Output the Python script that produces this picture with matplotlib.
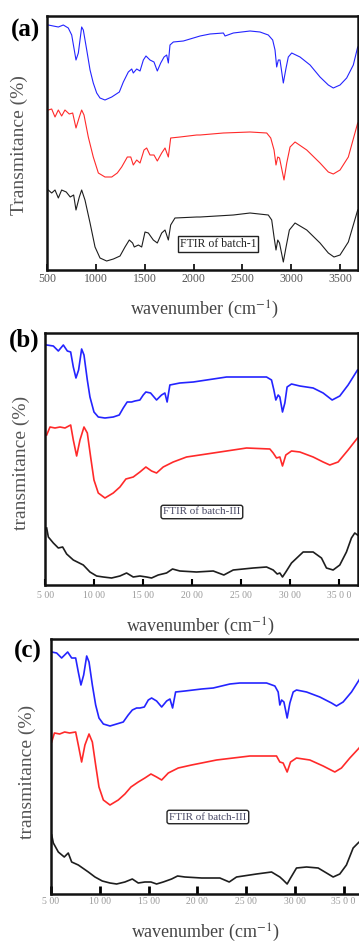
import matplotlib
matplotlib.use('Agg')
import matplotlib.pyplot as plt

plt.rcParams['font.family'] = ['Liberation Serif', 'DejaVu Serif']
plt.rcParams['mathtext.fontset'] = 'stix'

W, H = 359, 944

# ---- panel (a): FTIR of batch-1 ----
wn_a_blue = [511, 562, 614, 665, 716, 751, 795, 819, 853, 870, 905, 939, 972, 1007, 1041, 1092, 1161, 1239,
             1280, 1331, 1366, 1382, 1417, 1451, 1485, 1512, 1553, 1594, 1628, 1663, 1697, 1724, 1741, 1758,
             1792, 1895, 2032, 2066, 2168, 2305, 2322, 2407, 2578, 2680, 2765, 2810, 2834, 2851, 2868, 2885,
             2919, 2947, 2970, 3005, 3090, 3193, 3295, 3380, 3431, 3500, 3568, 3636, 3681]
t_a_blue = [245, 244, 243, 245, 242, 235, 210, 217, 243, 240, 220, 200, 187, 177, 172, 170, 173, 178,
            188, 198, 201, 197, 201, 199, 210, 214, 210, 208, 199, 207, 213, 215, 207, 225,
            228, 229, 233, 234, 236, 237, 234, 237, 239, 238, 235, 230, 220, 203, 210, 210,
            187, 202, 213, 217, 213, 205, 193, 185, 182, 185, 192, 205, 223]

wn_a_red = [511, 546, 580, 614, 648, 682, 726, 761, 795, 829, 853, 877, 921, 972, 1024, 1092, 1161, 1218,
            1263, 1321, 1356, 1382, 1417, 1451, 1492, 1519, 1553, 1594, 1628, 1673, 1707, 1741, 1765, 1861,
            2032, 2066, 2305, 2578, 2749, 2790, 2824, 2844, 2862, 2880, 2926, 2954, 2988, 3039, 3159, 3295,
            3380, 3431, 3500, 3585, 3681]
t_a_red = [160, 161, 153, 160, 154, 160, 156, 157, 142, 153, 160, 155, 133, 113, 97, 93, 93, 97,
           103, 113, 113, 105, 110, 107, 120, 122, 115, 115, 109, 117, 122, 113, 132, 133,
           135, 135, 137, 138, 137, 132, 120, 105, 113, 112, 90, 107, 123, 128, 120, 107,
           98, 96, 100, 113, 147]

wn_a_black = [511, 546, 580, 614, 648, 695, 736, 771, 795, 829, 853, 887, 939, 990, 1041, 1109, 1178, 1246,
              1297, 1341, 1375, 1392, 1434, 1468, 1502, 1536, 1587, 1628, 1673, 1707, 1741, 1765, 1809, 2032,
              2066, 2407, 2578, 2765, 2800, 2824, 2844, 2862, 2880, 2919, 2947, 2981, 3039, 3159, 3295, 3380,
              3438, 3500, 3585, 3681]
t_a_black = [80, 77, 80, 72, 80, 78, 73, 75, 60, 73, 80, 70, 47, 23, 12, 9, 11, 14,
             23, 30, 27, 23, 25, 23, 38, 37, 30, 27, 37, 40, 30, 45, 52, 53,
             53, 55, 57, 55, 50, 33, 20, 30, 27, 8, 23, 40, 47, 40, 27, 17,
             13, 15, 28, 60]

# ---- panel (b): FTIR of batch-III ----
wn_b_blue = [514, 582, 633, 684, 725, 759, 786, 813, 840, 871, 895, 929, 956, 997, 1041, 1109, 1194, 1255,
             1296, 1336, 1381, 1415, 1466, 1500, 1527, 1575, 1636, 1687, 1721, 1744, 1772, 1874, 2011, 2147,
             2351, 2487, 2759, 2810, 2834, 2854, 2878, 2895, 2922, 2946, 2969, 3014, 3099, 3235, 3337, 3429,
             3507, 3592, 3688]
t_b_blue = [240, 239, 234, 240, 234, 233, 218, 207, 215, 236, 230, 205, 188, 173, 168, 167, 168, 170,
            177, 183, 183, 184, 185, 190, 193, 192, 185, 190, 192, 183, 200, 202, 203, 205,
            208, 208, 208, 205, 195, 185, 190, 188, 173, 182, 198, 201, 199, 197, 192, 185,
            189, 200, 215]

wn_b_red = [514, 548, 599, 650, 701, 759, 786, 820, 854, 895, 929, 963, 997, 1041, 1109, 1194, 1262, 1323,
            1398, 1466, 1527, 1585, 1636, 1704, 1806, 1942, 2147, 2351, 2555, 2793, 2827, 2861, 2895, 2922,
            2956, 3014, 3099, 3235, 3337, 3405, 3490, 3592, 3688]
t_b_red = [150, 158, 157, 158, 157, 160, 145, 129, 145, 158, 152, 128, 105, 92, 87, 92, 98, 106,
           108, 113, 118, 114, 112, 118, 123, 128, 131, 134, 137, 136, 132, 127, 128, 119,
           130, 134, 133, 128, 123, 120, 123, 135, 147]

wn_b_black = [514, 531, 582, 633, 677, 718, 786, 888, 956, 1024, 1092, 1177, 1262, 1330, 1398, 1466, 1534,
              1585, 1653, 1738, 1799, 1874, 2044, 2215, 2323, 2419, 2623, 2759, 2827, 2868, 2895, 2922, 2956,
              3014, 3133, 3235, 3320, 3371, 3439, 3507, 3575, 3626, 3660, 3688]
t_b_black = [57, 48, 42, 37, 38, 31, 25, 20, 13, 9, 8, 7, 9, 12, 8, 9, 8,
             7, 10, 12, 16, 14, 13, 14, 10, 15, 17, 18, 15, 11, 12, 8, 13,
             22, 33, 33, 27, 17, 15, 20, 33, 47, 52, 50]

# ---- panel (c): FTIR of batch-III ----
wn_c_blue = [507, 558, 609, 671, 712, 753, 780, 807, 835, 866, 890, 924, 958, 992, 1037, 1105, 1173, 1241,
             1292, 1334, 1378, 1412, 1457, 1498, 1532, 1583, 1635, 1686, 1720, 1747, 1778, 1874, 2045, 2164,
             2335, 2437, 2711, 2796, 2830, 2847, 2865, 2889, 2922, 2950, 2984, 3018, 3121, 3257, 3377, 3428,
             3496, 3582, 3660, 3700]
t_c_blue = [242, 241, 236, 242, 236, 236, 222, 209, 219, 238, 232, 209, 189, 176, 170, 168, 170, 172,
            179, 184, 186, 186, 187, 194, 196, 193, 187, 193, 195, 186, 202, 203, 205, 206,
            210, 211, 211, 208, 202, 189, 194, 192, 176, 191, 202, 204, 202, 197, 191, 188,
            192, 202, 214, 222]

wn_c_red = [507, 535, 589, 640, 691, 753, 780, 814, 848, 890, 924, 958, 992, 1037, 1105, 1190, 1258, 1320,
            1395, 1463, 1525, 1583, 1635, 1703, 1805, 1942, 2045, 2198, 2369, 2540, 2813, 2847, 2881, 2922,
            2957, 3018, 3155, 3291, 3411, 3479, 3565, 3660, 3700]
t_c_red = [152, 161, 160, 162, 161, 162, 149, 132, 149, 160, 152, 129, 107, 94, 89, 94, 100, 107,
           112, 116, 120, 117, 114, 121, 126, 129, 131, 134, 136, 138, 138, 132, 131, 122,
           132, 136, 134, 128, 122, 126, 136, 146, 152]

wn_c_black = [507, 524, 575, 636, 677, 712, 780, 883, 951, 1026, 1105, 1173, 1258, 1334, 1395, 1463, 1525,
              1583, 1651, 1737, 1798, 1874, 2045, 2232, 2328, 2403, 2608, 2762, 2847, 2881, 2922, 2957, 3018,
              3121, 3240, 3326, 3394, 3462, 3530, 3599, 3660, 3700]
t_c_black = [59, 51, 42, 37, 41, 32, 29, 22, 17, 13, 11, 10, 12, 15, 11, 12, 12,
             10, 12, 15, 18, 17, 16, 16, 12, 17, 20, 22, 17, 14, 10, 16, 26,
             27, 26, 21, 17, 20, 29, 46, 52, 50]

ticks = [500, 1000, 1500, 2000, 2500, 3000, 3500]
ticklabels_a = ['500', '1000', '1500', '2000', '2500', '3000', '3500']
ticklabels_bc = ['5 00', '10 00', '15 00', '20 00', '25 00', '30 00', '35 0 0']

BLUE = '#2424ff'
RED = '#ff2a2a'
BLACK = '#1e1e1e'


def px_box(left, top, right, bottom):
    return [left / W, 1 - bottom / H, (right - left) / W, (bottom - top) / H]


def fx(x):
    return x / W


def fy(y):
    return 1 - y / H


fig = plt.figure(figsize=(W / 100, H / 100), dpi=100)

panels = [
    dict(box=(47.2, 16, 357.7, 270), xlim=(500, 3681), ylim=(0, 254),
         series=[(wn_a_blue, t_a_blue, BLUE), (wn_a_red, t_a_red, RED), (wn_a_black, t_a_black, BLACK)],
         lw=0.8, text='FTIR of batch-1', tpos=(2250, 26), tcolor='#222222', boxstyle='square,pad=0.15',
         tfs=8.5, ticklabels=ticklabels_a, tcol='#555555', tsize=8.5, tlen=4, twid=1.2, pad=2.5,
         tag='(a)', tagpos=(25, 30), ylab='Transmitance (%)', ylabpos=(19, 145), xlabpos=(204, 310)),
    dict(box=(45.3, 333, 357.7, 585), xlim=(500, 3690), ylim=(0, 252),
         series=[(wn_b_blue, t_b_blue, BLUE), (wn_b_red, t_b_red, RED), (wn_b_black, t_b_black, BLACK)],
         lw=1.2, text='FTIR of batch-III', tpos=(2099, 73), tcolor='#4a4a66', boxstyle='round,pad=0.2',
         tfs=8, ticklabels=ticklabels_bc, tcol='#999999', tsize=7, tlen=4, twid=1.5, pad=4,
         tag='(b)', tagpos=(24, 340), ylab='transmitance (%)', ylabpos=(21, 463), xlabpos=(200, 627)),
    dict(box=(51, 639, 363, 894), xlim=(500, 3700), ylim=(0, 255),
         series=[(wn_c_blue, t_c_blue, BLUE), (wn_c_red, t_c_red, RED), (wn_c_black, t_c_black, BLACK)],
         lw=1.2, text='FTIR of batch-III', tpos=(2109, 77), tcolor='#4a4a66', boxstyle='round,pad=0.2',
         tfs=8, ticklabels=ticklabels_bc, tcol='#999999', tsize=7, tlen=6, twid=2, pad=2.5,
         tag='(c)', tagpos=(28, 651), ylab='transmitance (%)', ylabpos=(27, 772), xlabpos=(205, 933)),
]

for p in panels:
    ax = fig.add_axes(px_box(*p['box']))
    for wn, t, col in p['series']:
        ax.plot(wn, t, color=col, lw=p['lw'])
    ax.set_xlim(*p['xlim'])
    ax.set_ylim(*p['ylim'])
    ax.set_yticks([])
    ax.set_xticks(ticks)
    ax.set_xticklabels(p['ticklabels'])
    ax.tick_params(axis='x', direction='in', length=p['tlen'], width=p['twid'],
                   labelsize=p['tsize'], labelcolor=p['tcol'], pad=p['pad'])
    for s in ax.spines.values():
        s.set_linewidth(1.8)
        s.set_color('#111111')
    ax.text(p['tpos'][0], p['tpos'][1], p['text'], fontsize=p['tfs'], color=p['tcolor'],
            ha='center', va='center',
            bbox=dict(boxstyle=p['boxstyle'], fc='white', ec='#222222', lw=1.0))

    fig.text(fx(p['tagpos'][0]), fy(p['tagpos'][1]), p['tag'], fontsize=18, fontweight='bold',
             ha='center', va='center')
    fig.text(fx(p['ylabpos'][0]), fy(p['ylabpos'][1]), p['ylab'], fontsize=14, color='#555555',
             rotation=90, ha='center', va='center')
    fig.text(fx(p['xlabpos'][0]), fy(p['xlabpos'][1]), r'wavenumber (cm$^{-1}$)', fontsize=13,
             color='#444444', ha='center', va='center')

fig.savefig('out.png', dpi=100)
